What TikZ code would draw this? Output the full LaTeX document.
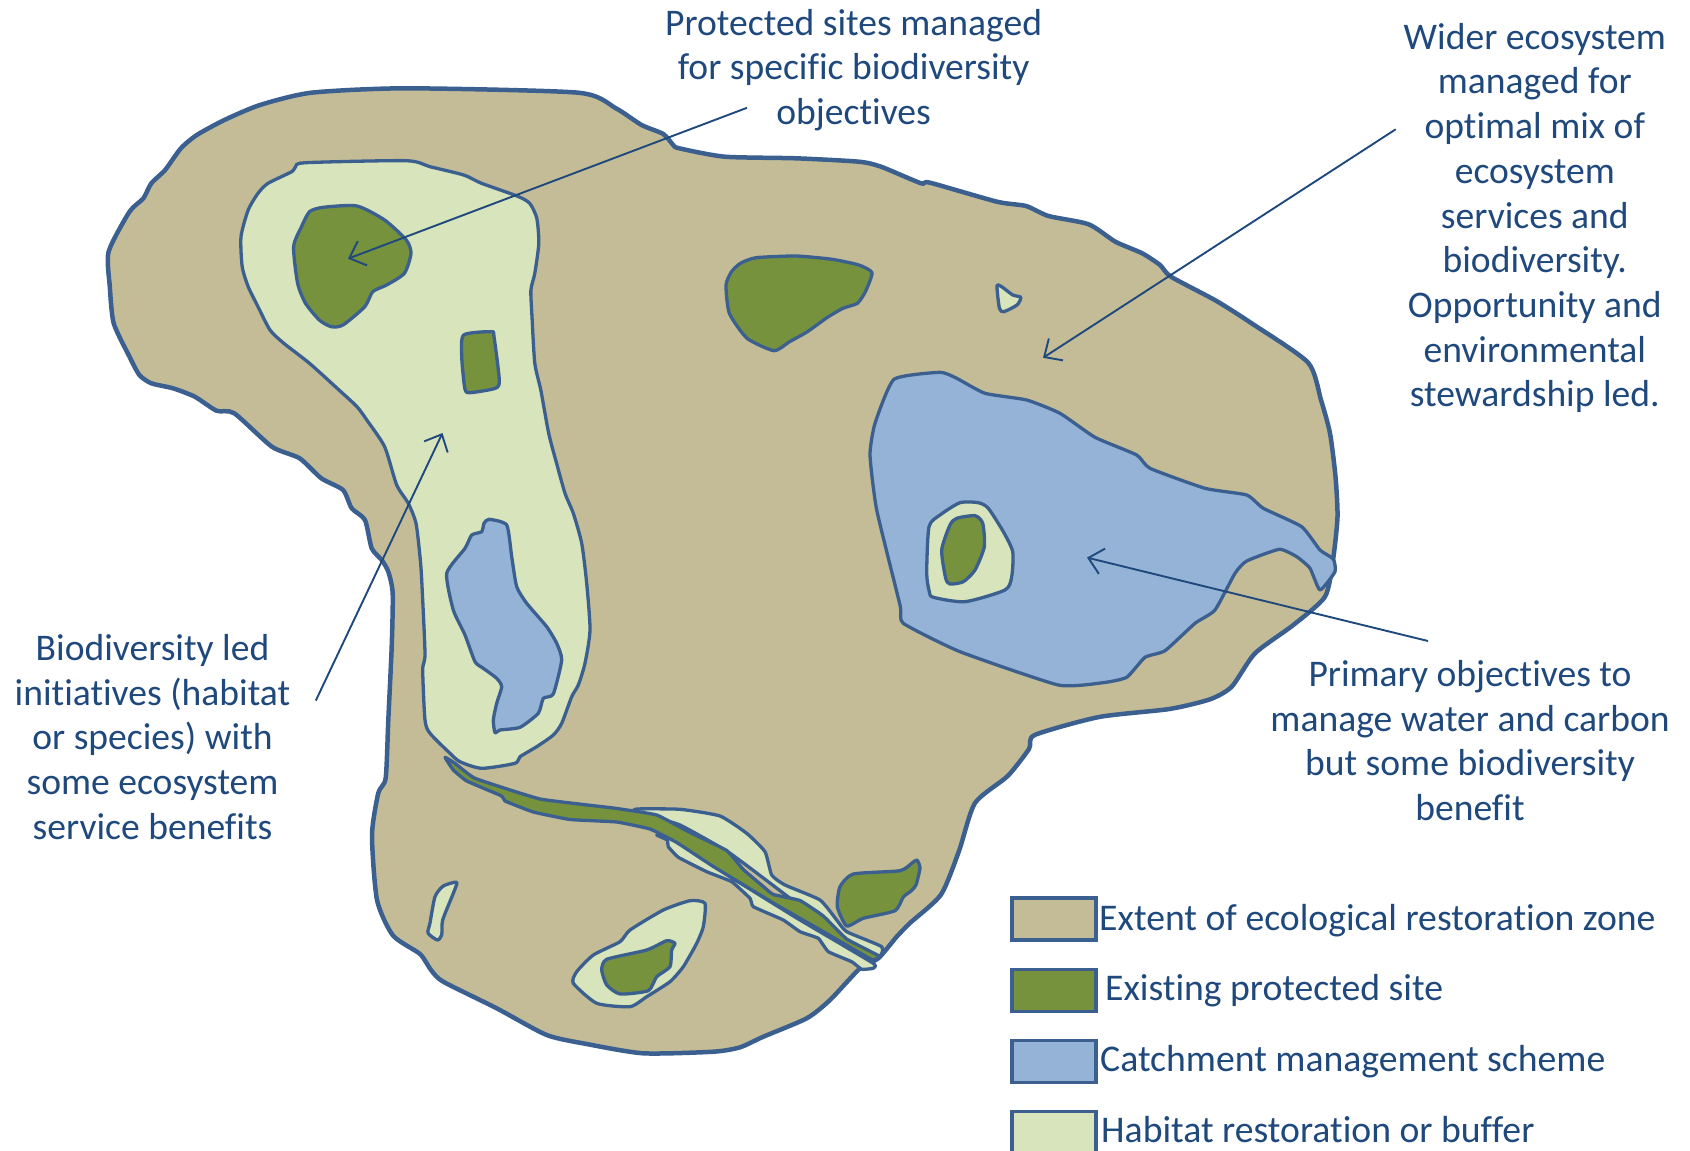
\documentclass[tikz,border=0pt]{standalone}
\usepackage{fontspec}
\setmainfont[Ligatures=NoCommon]{Carlito}
\usetikzlibrary{arrows.meta}
\definecolor{edgeblue}{HTML}{3B6090}
\definecolor{textblue}{HTML}{1F497D}
\definecolor{tanfill}{HTML}{C4BC96}
\definecolor{greenfill}{HTML}{76923C}
\definecolor{bluefill}{HTML}{95B3D7}
\definecolor{palefill}{HTML}{D8E4BC}
\tikzset{
  zone/.style={draw=edgeblue,line width=4.5pt,fill=tanfill,line join=round},
  patch/.style={draw=edgeblue,line width=3.3pt,line join=round},
  pale/.style={patch,fill=palefill},
  site/.style={patch,fill=greenfill},
  catch/.style={patch,fill=bluefill},
  pointer/.style={draw=textblue,line width=1.9pt,-{Straight Barb[length=14pt,width=26pt,line width=1.9pt]}},
  label/.style={text=textblue,font=\fontsize{37.6}{44.7}\selectfont,align=center,inner sep=0pt},
  keytext/.style={text=textblue,font=\fontsize{37.7}{44}\selectfont,anchor=base west,inner sep=0pt},
  keybox/.style={draw=edgeblue,line width=3.8pt}
}
\begin{document}
\begin{tikzpicture}[x=1pt,y=-1pt]
\useasboundingbox (0,0) rectangle (1690,1151);
% main zone
\draw[zone] plot[smooth cycle,tension=0.4] coordinates {
(108.6,251.7)(129.5,211.7)(143.4,198.3)(151.3,183.3)(165.1,170)(180.9,148.3)(196.8,135)(224.4,120)(260,105)(311.4,92.7)(406.3,88.3)(578.3,92.7)(615.9,108.3)(641.6,125)(663.3,134)(673.2,145)(679.2,148.3)
(724.8,156.7)(796,158.3)(858.8,161.7)(881,166.7)(921,183.3)(930,182.7)(997,201.7)(1026,206)(1048.5,216)(1088.7,224.3)(1115.4,241.7)(1142.2,253.3)(1160,265)(1171,276.7)(1216,300.7)(1251.6,323.3)(1308,362.5)
(1321,400)(1330,433.3)(1335.5,476.7)(1337.5,516.7)(1333,560)(1325,596.7)(1293.3,625)(1255,653.3)(1231.7,686.7)(1210,699.3)(1169.4,709)(1099,717)(1034.7,735)(1029,749)(1007.7,776)(975,803)(959,851)(941,894.6)(910,923)(896.7,936.7)(878.3,958.3)(860,968.3)(830,1000)(806.7,1018.3)(763.3,1036.7)(740,1047.3)(713.3,1051.7)(643.3,1053.3)(586.7,1044)(546.7,1035)(496.7,1008.3)(443.3,981.7)(431,970)(420,954)(393,935.5)(377,900)(372,835)(378.3,793)(385.7,778)(388.3,720)(391.7,646.7)(392.7,593.3)(388.3,571.7)(381.7,560)(371.7,548.3)(365,520)(351.7,508.3)(343,490)(321.3,478.3)(299.6,458.3)(271.9,446.7)(234.3,413.3)(216.5,410.7)(194.8,396.7)(173,388.3)(151.3,383.3)(139.4,375)(129.5,356.7)(113.7,323.3)(109.8,286.7)};
% large habitat patch
\draw[pale] plot[smooth cycle,tension=0.4] coordinates {
(295.6,166.7)(305.5,162.7)(406.3,160.7)(430,166.7)(463.7,175)(481.5,183.3)(517,196)(529.7,203.3)(536.8,218.3)(538.8,243.3)(534.8,273.3)(530.9,290)(532,316.7)(534.8,363.3)(540.8,390)(548.7,433.3)(556.6,463.3)(565,493.3)(573.3,513.3)(581.7,543.3)(586.7,583.3)(590,630)(585,663.3)(578.3,685)(571.7,696.7)(561.7,723.3)(553.3,735)(536.7,746.7)(520,756.7)(515,763.3)(481.7,768.3)(460,761.7)(450,753.3)(430,733.3)(425,720)(422.7,670)(425,653.3)(421.7,580)(420,556.7)(416,523.3)(408.3,503.3)(396.7,485)(384.6,446.7)(366.8,420)(357,406.7)(339,390)(309.5,363.3)(283.8,343.3)(270,330)(258,306.7)(248.2,286.7)(242.2,266.7)(241,236.7)(248.2,210)(258,193.3)(268,183.3)(291.7,171.7)};
\draw[site] plot[smooth cycle,tension=0.4] coordinates {
(309.5,211.7)(323.3,207.3)(356.9,206)(384.6,220)(406.3,240)(411,253.3)(404.4,273.3)(386.6,285)(372.7,291.7)(364.8,306.7)(343,325)(331.2,326.7)(319.3,320)(305.5,303.3)(297.6,283.3)(293.6,246.7)(301.5,226.7)};
\draw[site] plot[smooth cycle,tension=0.4] coordinates {
(463.7,335)(491.3,331.7)(494,336.7)(499.3,380)(495.3,388.3)(469.6,392.7)(464.8,388.3)(461.7,356.7)};
\draw[catch] plot[smooth cycle,tension=0.35] coordinates {
(489,519.3)(506.7,525)(511.7,556.7)(516.7,586.7)(526.7,603.3)(546.7,626.7)(556.7,643.3)(561.7,660)(553.3,694)(543.3,698.3)(538.3,713.3)(520,727.3)(500,730)(495,732.7)(493.3,720)(496.7,703.3)(501.7,686.7)(496.7,678.3)(483.3,668.3)(475,661.7)(465,635)(453.3,610)(446.7,573.3)(465,548.3)(471.7,535)(481.7,531.7)(484,523.3)};
% top middle site and small pale patch
\draw[site] plot[smooth cycle,tension=0.35] coordinates {
(740.4,263.3)(756,257.7)(796,256)(832,259.3)(858.8,265)(872,272.7)(865.4,291.7)(857.4,303.3)(843,308.3)(827.5,317.3)(807.4,331.7)(789.6,341.7)(774,350.7)(747,338.3)(729.3,313.3)(726,285)(731.5,271.7)};
\draw[pale] plot[smooth cycle,tension=0.4] coordinates {
(997,286)(1001.6,286.7)(1012.8,295)(1020.8,297.3)(1017,305)(1003.8,311.7)(999.4,308.3)};
% catchment on the right
\draw[catch] plot[smooth cycle,tension=0.3] coordinates {
(894,379.3)(940,372.3)(956.7,378.3)(985,393.3)(1026.7,400)(1060,413.3)(1095,437.3)(1136.7,455)(1150,468.3)(1205,488.3)(1246.7,495)(1263.3,508.3)(1301.7,526.7)(1320,550)(1333.3,559)(1335,571.7)(1320,590)(1310,568.3)(1296.7,556.7)(1279.3,549.3)(1246.7,561)(1235,573.3)(1215,610)(1195,623.3)(1165,650.7)(1145,657.3)(1126.7,677.3)(1103,682.7)(1058.3,685)(960,651.7)(903.3,623.3)(900,605)(876.7,510)(870,455)(875,423.3)};
\draw[pale] plot[smooth cycle,tension=0.4] coordinates {
(960,502.7)(978.3,502.7)(988.3,508.3)(1003.3,531.7)(1012.7,551.7)(1011.7,576.7)(1005,590)(965,601.7)(933.3,597.3)(929.3,591.7)(926.7,573.3)(929,526.7)(940,515)};
\draw[site] plot[smooth cycle,tension=0.4] coordinates {
(956.7,518.3)(975,515.7)(982.7,523.3)(984.3,546.7)(975,570)(963.3,581.7)(950,584)(945.7,578.3)(941.7,550)(950,525)};
% river corridor
\draw[pale] plot[smooth cycle,tension=0.3] coordinates {
(636.7,809)(680,809.3)(720,816)(746.7,833.3)(765,851.7)(771.7,875)(785,885)(820,900)(836.7,920)(846.7,931.7)(881.7,946.7)(878.3,956.7)(846.7,940)(796.7,903.3)(730,853.3)(680,825)(653.3,817.7)(634,812.7)};
\draw[pale] plot[smooth cycle,tension=0.2] coordinates {
(656.7,835)(675,838.3)(730,876.5)(796.7,918)(873.3,963.3)(873.3,968.3)(861.7,969.3)(851.7,961.7)(828.3,951.7)(818.3,938.3)(800,931.7)(783.3,920)(753.3,906.7)(750,898.3)(731.7,881.7)(706.7,871.7)(678.3,857.3)(668.3,846.7)(667.3,840)};
\draw[site] plot[smooth cycle,tension=0.2] coordinates {
(445,757.3)(455,763.3)(475,778.3)(540,799)(613.3,808)(656.7,815)(690,832.5)(726.7,850.5)(743.3,869.5)(763.3,886.5)(773.3,894.5)(800,900.5)(823.3,916)(846.7,939)(879,956)(871.7,959.5)(830,935.5)(773.3,903)(713.3,866.5)(676.7,842.5)(650,829)(616.7,822)(570,819.5)(533.3,812)(505,801)(501.7,796)(466.7,781)(453.3,770)};
\draw[site] plot[smooth cycle,tension=0.35] coordinates {
(853.3,874)(900,870.7)(912,863)(917,860)(920,868)(916,885)(911,891)(903.3,897)(895,910.7)(863.3,918.3)(846.7,926)(837.3,906.7)(840,886.7)};
% bottom patches
\draw[pale] plot[smooth cycle,tension=0.4] coordinates {
(456.7,882.3)(443.3,886)(435,896.7)(430,923)(428,933)(437.3,940)(441.7,935)(442.7,920)(453.3,893.3)};
\draw[pale] plot[smooth cycle,tension=0.35] coordinates {
(705,903.3)(690,900.7)(663.3,910)(630,930)(620,941.7)(593.3,955)(576.7,971.7)(573.3,983.3)(596.7,1003.3)(630,1006.7)(646.7,996.7)(670,981.7)(683.3,966.7)(696.7,943.3)(703.3,926.7)};
\draw[site] plot[smooth cycle,tension=0.35] coordinates {
(675,943.3)(666.7,940.7)(646.7,950)(606.7,959.3)(601.7,970)(606.7,985)(620,994)(648.3,990.7)(656.7,976.7)(670,966.7)(671.7,950)};
% labels
\node[label] (sitesnote) at (853.6,70) {Protected sites managed\\for specific biodiversity\\objectives};
\node[label] (widernote) at (1534.8,218) {Wider ecosystem\\managed for\\optimal mix of\\ecosystem\\services and\\biodiversity.\\Opportunity and\\environmental\\stewardship led.};
\node[label] (waternote) at (1470,740.5) {Primary objectives to\\manage water and carbon\\but some biodiversity\\benefit};
\node[label] (biodnote) at (152.5,737) {Biodiversity led\\initiatives (habitat\\or species) with\\some ecosystem\\service benefits};
% pointers
\coordinate (p1s) at (747,107.8); \coordinate (p1e) at (348,258.7);
\coordinate (p2s) at (1395.7,129.3); \coordinate (p2e) at (1043,357.8);
\coordinate (p3s) at (1428,641); \coordinate (p3e) at (1087,557.6);
\coordinate (p4s) at (315.8,700.6); \coordinate (p4e) at (442.5,433);
\draw[pointer] (p1s) -- (p1e);
\draw[pointer] (p2s) -- (p2e);
\draw[pointer] (p3s) -- (p3e);
\draw[pointer] (p4s) -- (p4e);
% legend
\node[keybox,fill=tanfill,minimum width=0pt,inner sep=0pt] (k1) at (1054,919) {\rule{0pt}{42pt}\rule{84pt}{0pt}};
\node[keybox,fill=greenfill,inner sep=0pt] (k2) at (1054,990.5) {\rule{0pt}{42pt}\rule{84pt}{0pt}};
\node[keybox,fill=bluefill,inner sep=0pt] (k3) at (1054,1061.5) {\rule{0pt}{42pt}\rule{84pt}{0pt}};
\begin{scope}
\clip (1000,1100) rectangle (1110,1151);
\node[keybox,fill=palefill,inner sep=0pt] (k4) at (1054,1132.5) {\rule{0pt}{42pt}\rule{84pt}{0pt}};
\end{scope}
\node[keytext] (t1) at (1099,930) {Extent of ecological restoration zone};
\node[keytext] (t2) at (1105,1000.5) {Existing protected site};
\node[keytext] (t3) at (1100,1071.5) {Catchment management scheme};
\node[keytext] (t4) at (1101,1142.5) {Habitat restoration or buffer};
\end{tikzpicture}
\end{document}
